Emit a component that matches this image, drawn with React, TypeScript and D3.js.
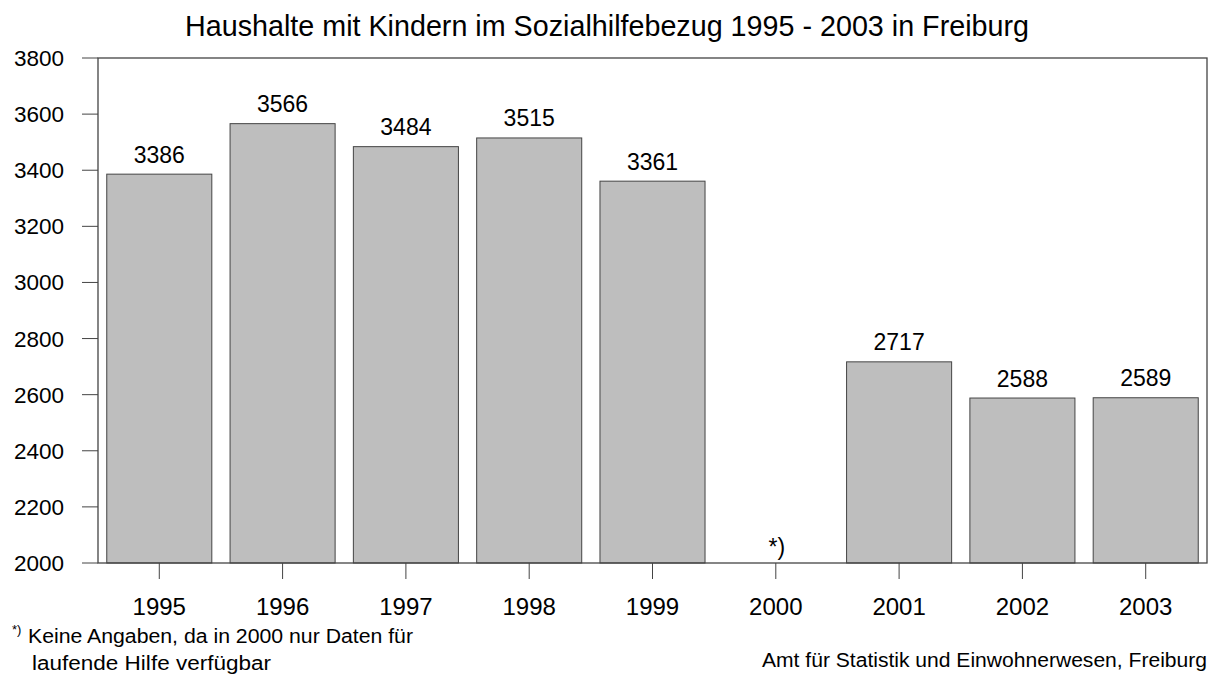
import React from "react";
import * as d3 from "d3";

const years = ["1995", "1996", "1997", "1998", "1999", "2000", "2001", "2002", "2003"];
const values: (number | null)[] = [3386, 3566, 3484, 3515, 3361, null, 2717, 2588, 2589];
const yTicks = [2000, 2200, 2400, 2600, 2800, 3000, 3200, 3400, 3600, 3800];

const W = 1212, H = 675;
const L = 98, R = 1207, T = 58, B = 563;
const FONT = "'Liberation Sans', Arial, sans-serif";

export default function App() {
  const x = d3.scaleBand<string>().domain(years).range([L, R]).paddingInner(0.148).paddingOuter(0.071);
  const y = d3.scaleLinear().domain([2000, 3800]).range([B, T]);
  return (
    <svg width={W} height={H} style={{ position: "absolute", left: 0, top: 0, background: "#fff" }} fontFamily={FONT}>
      <text x={185} y={36} fontSize={29} fill="#000" textLength={844} lengthAdjust="spacingAndGlyphs">
        Haushalte mit Kindern im Sozialhilfebezug 1995 - 2003 in Freiburg
      </text>
      {years.map((yr, i) => {
        const v = values[i];
        const cx = x(yr)! + x.bandwidth() / 2;
        return (
          <g key={yr}>
            {v !== null ? (
              <>
                <rect x={x(yr)} y={y(v)} width={x.bandwidth()} height={B - y(v)} fill="#bebebe" stroke="#444" strokeWidth={1} />
                <text x={cx} y={y(v) - 11.5} textAnchor="middle" fontSize={23} fill="#000">{v}</text>
              </>
            ) : (
              <text x={cx + 1} y={555} textAnchor="middle" fontSize={23} fill="#000">*)</text>
            )}
            <line x1={cx} x2={cx} y1={B} y2={B + 16} stroke="#444" strokeWidth={1} />
            <text x={cx} y={615} textAnchor="middle" fontSize={24} fill="#000">{yr}</text>
          </g>
        );
      })}
      <rect x={L} y={T} width={R - L} height={B - T} fill="none" stroke="#444" strokeWidth={1.3} />
      {yTicks.map((t) => (
        <g key={t}>
          <line x1={L - 16} x2={L} y1={y(t)} y2={y(t)} stroke="#444" strokeWidth={1} />
          <text x={64} y={y(t) + 8} textAnchor="end" fontSize={22.5} fill="#000">{t}</text>
        </g>
      ))}
      <text x={12} y={634} fontSize={13} fill="#000">*)</text>
      <text x={28} y={643} fontSize={20} fill="#000" textLength={385} lengthAdjust="spacingAndGlyphs">Keine Angaben, da in 2000 nur Daten für</text>
      <text x={32} y={670} fontSize={20} fill="#000" textLength={239} lengthAdjust="spacingAndGlyphs">laufende Hilfe verfügbar</text>
      <text x={1207} y={667} textAnchor="end" fontSize={20} fill="#000" textLength={445} lengthAdjust="spacingAndGlyphs">Amt für Statistik und Einwohnerwesen, Freiburg</text>
    </svg>
  );
}
